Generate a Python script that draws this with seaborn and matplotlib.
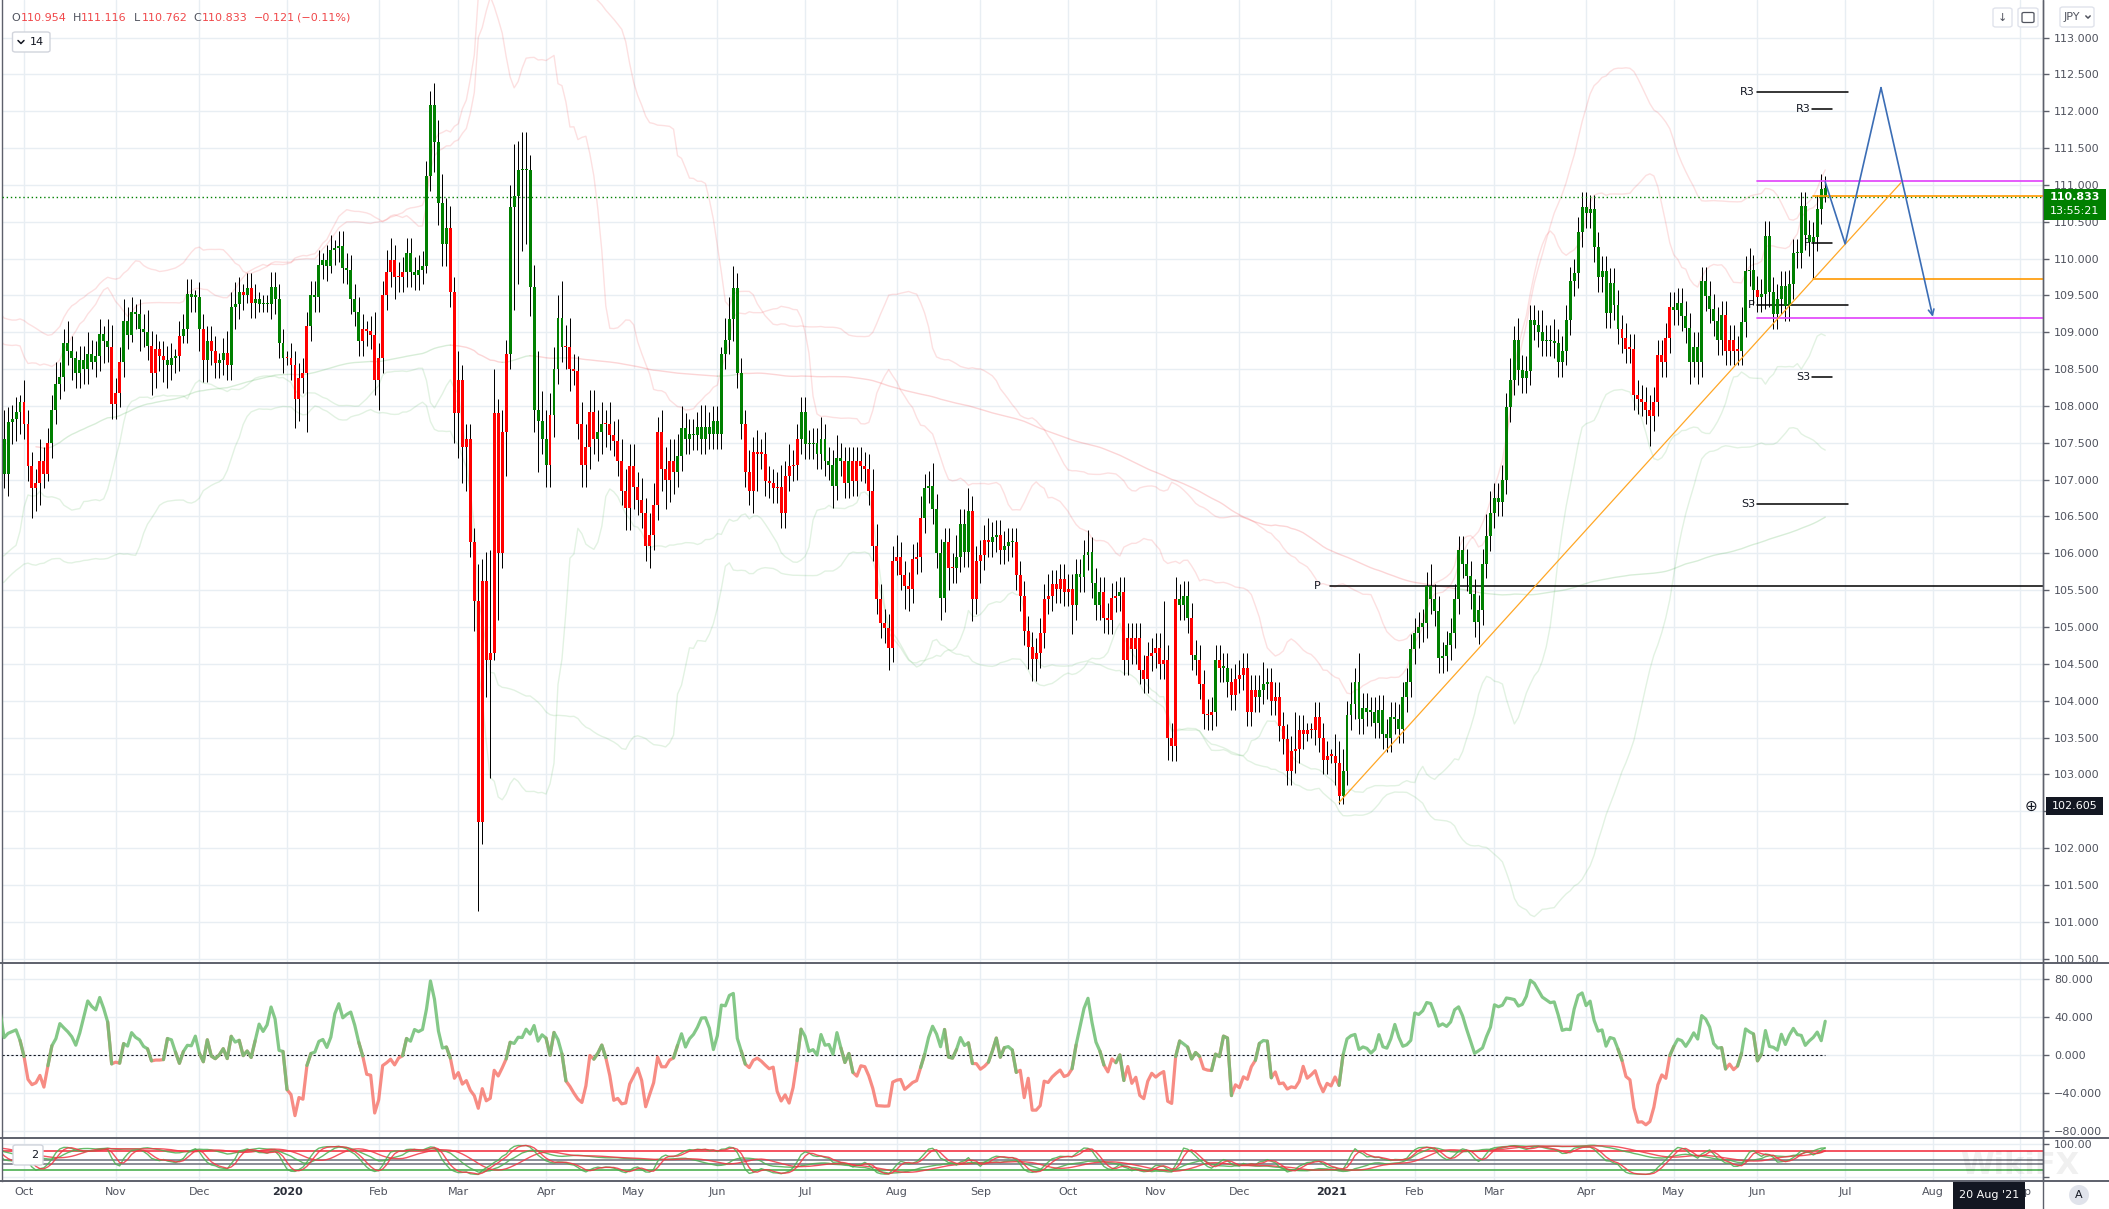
import numpy as np
import pandas as pd
import matplotlib
matplotlib.use("Agg")
import matplotlib.pyplot as plt
import seaborn as sns
from matplotlib.patches import Rectangle, FancyBboxPatch
from matplotlib.lines import Line2D

# ---------------------------------------------------------------- data
first_open = 106.30
last_ohlc = [110.954, 111.116, 110.762, 110.833]   # O H L C of current bar
countdown = "13:55:21"
crosshair_price = 102.605
crosshair_date = "20 Aug '21"

close_1909 = [106.24, 105.96, 106.45, 106.95, 106.92, 106.93, 107.55, 107.80, 108.10, 108.09, 108.10, 108.15, 108.45, 107.95, 107.56, 107.55, 107.08, 107.78, 107.82, 107.92, 108.05]
up_1909 = [2, 2, 2, 3, 2, 1, 2, 2, 2, 2, 2, 2, 3, 3, 3, 2, 4, 2, 2, 2, 1]
dn_1909 = [3, 3, 2, 2, 3, 3, 2, 2, 2, 2, 3, 2, 2, 2, 2, 3, 2, 3, 3, 3, 3]

close_1910 = [107.75, 107.18, 106.88, 106.95, 107.25, 107.08, 107.50, 107.95, 108.30, 108.40, 108.85, 108.75, 108.65, 108.45, 108.62, 108.50, 108.70, 108.60, 108.68, 108.98, 108.88, 108.80, 108.03]
up_1910 = [3, 2, 2, 2, 3, 2, 2, 2, 3, 2, 2, 3, 2, 1, 2, 2, 3, 2, 2, 2, 1, 3, 3]
dn_1910 = [2, 2, 4, 3, 3, 2, 1, 2, 2, 2, 2, 2, 3, 2, 2, 2, 2, 1, 2, 2, 3, 2, 2]

close_1911 = [108.18, 108.60, 109.15, 108.97, 109.28, 109.25, 109.05, 109.00, 108.82, 108.45, 108.78, 108.68, 108.62, 108.55, 108.65, 108.68, 108.95, 109.05, 109.52, 109.48, 109.48]
up_1911 = [2, 2, 3, 2, 2, 1, 2, 2, 3, 2, 2, 1, 2, 2, 2, 1, 2, 2, 2, 2, 1]
dn_1911 = [2, 2, 2, 2, 1, 2, 3, 2, 2, 3, 2, 2, 3, 3, 2, 2, 2, 1, 2, 2, 2]

close_1912 = [109.05, 108.62, 108.88, 108.75, 108.58, 108.62, 108.72, 108.55, 109.35, 109.38, 109.55, 109.50, 109.60, 109.40, 109.45, 109.38, 109.40, 109.38, 109.62, 109.45, 108.85, 108.65]
up_1912 = [2, 2, 2, 2, 2, 1, 2, 3, 2, 3, 2, 1, 2, 2, 2, 1, 1, 1, 2, 2, 2, 2]
dn_1912 = [3, 3, 3, 2, 2, 2, 2, 2, 2, 3, 2, 2, 1, 2, 2, 1, 1, 1, 2, 2, 2, 2]

close_2001 = [108.65, 108.55, 108.10, 108.38, 108.45, 109.08, 109.50, 109.48, 109.92, 109.98, 109.90, 110.12, 110.15, 110.17, 109.87, 109.85, 109.45, 109.28, 108.88, 109.05, 109.02, 108.97, 108.35]
up_2001 = [1, 2, 2, 2, 2, 2, 2, 2, 2, 1, 2, 2, 1, 2, 2, 2, 2, 2, 2, 2, 1, 2, 3]
dn_2001 = [1, 2, 4, 3, 2, 8, 2, 2, 2, 2, 2, 1, 2, 2, 2, 2, 2, 2, 2, 2, 2, 2, 2]

close_2002 = [108.65, 109.50, 109.82, 109.98, 109.75, 109.75, 109.82, 110.08, 109.82, 109.78, 109.85, 109.90, 111.12, 112.08, 111.58, 110.75, 110.20, 110.42, 109.55, 107.90]
up_2002 = [2, 2, 3, 3, 2, 2, 2, 2, 2, 2, 2, 2, 2, 2, 3, 3, 4, 4, 3, 2]
dn_2002 = [4, 2, 2, 2, 3, 2, 2, 2, 2, 2, 2, 2, 1, 2, 4, 3, 3, 3, 2, 4]

close_2003 = [108.35, 107.45, 107.55, 106.15, 105.35, 102.35, 105.62, 104.55, 104.65, 107.90, 106.00, 107.65, 108.70, 110.70, 110.85, 111.20, 111.22, 111.20, 109.62, 107.95, 107.80, 107.55]
up_2003 = [4, 2, 2, 2, 2, 5, 3, 4, 14, 6, 2, 3, 2, 3, 7, 4, 5, 5, 2, 3, 8, 4]
dn_2003 = [6, 5, 6, 2, 4, 12, 3, 5, 16, 1, 9, 2, 6, 2, 14, 12, 11, 10, 4, 3, 7, 2]

close_2004 = [107.20, 107.88, 108.50, 109.20, 108.80, 108.80, 108.50, 108.48, 107.75, 107.20, 107.45, 107.92, 107.55, 107.65, 107.75, 107.75, 107.60, 107.52, 107.25, 106.85, 106.62, 107.18]
up_2004 = [4, 3, 3, 3, 5, 3, 4, 2, 2, 3, 3, 3, 3, 3, 3, 2, 3, 2, 3, 3, 3, 3]
dn_2004 = [3, 3, 3, 2, 2, 3, 3, 2, 2, 3, 3, 3, 2, 3, 3, 3, 2, 2, 2, 2, 3, 3]

close_2005 = [106.90, 106.72, 106.55, 106.10, 106.25, 106.65, 107.65, 107.15, 107.00, 107.25, 107.10, 107.32, 107.70, 107.55, 107.62, 107.60, 107.72, 107.55, 107.72, 107.62, 107.80]
up_2005 = [3, 2, 3, 2, 3, 3, 2, 3, 3, 3, 3, 3, 3, 2, 2, 2, 2, 3, 3, 2, 2]
dn_2005 = [3, 2, 2, 2, 3, 2, 2, 3, 4, 3, 3, 2, 2, 2, 2, 2, 2, 2, 2, 2, 2]

close_2006 = [107.62, 108.70, 108.90, 109.18, 109.60, 108.45, 107.75, 107.10, 106.85, 107.38, 107.35, 107.35, 106.98, 106.95, 106.88, 106.90, 106.55, 107.05, 107.18, 107.20, 107.55, 107.92]
up_2006 = [2, 1, 3, 3, 3, 2, 2, 2, 3, 2, 3, 2, 3, 2, 2, 2, 3, 2, 3, 2, 2, 2]
dn_2006 = [2, 2, 2, 2, 3, 2, 2, 2, 2, 3, 5, 2, 2, 2, 2, 2, 2, 2, 2, 2, 2, 2]

close_2007 = [107.48, 107.48, 107.50, 107.35, 107.55, 107.25, 107.20, 106.92, 107.30, 107.25, 106.95, 107.25, 106.98, 107.25, 107.18, 107.15, 106.85, 106.10, 105.38, 105.05, 104.98, 104.72, 105.90]
up_2007 = [2, 2, 2, 2, 3, 2, 2, 2, 3, 2, 2, 2, 2, 2, 2, 2, 2, 3, 3, 2, 2, 2, 2]
dn_2007 = [2, 2, 2, 2, 2, 2, 2, 3, 2, 2, 2, 2, 2, 2, 2, 2, 2, 2, 2, 2, 2, 3, 2]

close_2008 = [105.95, 105.70, 105.55, 105.52, 105.92, 105.95, 106.48, 106.88, 106.92, 106.60, 106.00, 105.40, 106.15, 105.80, 105.80, 105.95, 106.40, 106.02, 106.58, 105.38, 105.90]
up_2008 = [3, 2, 2, 2, 2, 2, 3, 2, 2, 3, 2, 2, 2, 2, 2, 3, 2, 2, 3, 2, 2]
dn_2008 = [2, 2, 3, 3, 2, 2, 2, 2, 2, 2, 2, 3, 2, 3, 2, 2, 2, 2, 2, 3, 2]

close_2009 = [105.98, 106.18, 106.15, 106.22, 106.25, 106.05, 106.10, 106.15, 106.15, 105.70, 105.42, 104.95, 104.73, 104.57, 104.65, 104.92, 105.38, 105.42, 105.58, 105.52, 105.65, 105.48]
up_2009 = [2, 2, 3, 2, 2, 2, 2, 2, 2, 2, 2, 2, 2, 2, 2, 2, 2, 3, 2, 2, 2, 2]
dn_2009 = [3, 2, 2, 2, 2, 2, 2, 2, 2, 2, 2, 2, 3, 3, 3, 2, 2, 2, 2, 2, 2, 2]

close_2010 = [105.52, 105.30, 105.72, 105.68, 105.98, 106.02, 105.60, 105.30, 105.48, 105.12, 105.10, 105.40, 105.42, 105.48, 104.55, 104.85, 104.70, 104.85, 104.42, 104.30, 104.60, 104.65]
up_2010 = [2, 2, 2, 2, 2, 3, 2, 2, 2, 2, 2, 2, 2, 2, 2, 2, 2, 2, 2, 2, 2, 2]
dn_2010 = [2, 4, 2, 2, 2, 2, 2, 2, 2, 2, 2, 2, 2, 2, 2, 2, 2, 2, 2, 2, 2, 2]

close_2011 = [104.72, 104.50, 104.55, 103.50, 103.38, 105.38, 105.30, 105.42, 105.12, 104.62, 104.55, 104.22, 103.82, 103.80, 103.85, 104.55, 104.45, 104.45, 104.25, 104.08, 104.30]
up_2011 = [2, 2, 8, 2, 2, 3, 2, 2, 2, 2, 2, 2, 2, 2, 2, 2, 2, 2, 2, 2, 2]
dn_2011 = [2, 2, 2, 3, 2, 2, 2, 2, 2, 2, 2, 2, 2, 2, 2, 2, 2, 2, 2, 2, 2]

close_2012 = [104.35, 104.45, 103.85, 104.15, 104.05, 104.15, 104.22, 104.25, 104.00, 104.05, 103.65, 103.48, 103.05, 103.32, 103.35, 103.60, 103.55, 103.60, 103.60, 103.78, 103.50, 103.20, 103.25]
up_2012 = [2, 2, 2, 2, 2, 2, 3, 2, 2, 2, 2, 2, 2, 2, 5, 2, 2, 1, 1, 2, 2, 2, 2]
dn_2012 = [2, 2, 2, 2, 2, 2, 2, 2, 2, 2, 2, 2, 2, 2, 3, 2, 2, 1, 1, 2, 2, 2, 2]

close_2101 = [103.25, 103.15, 102.70, 103.05, 103.80, 103.95, 104.25, 103.75, 103.90, 103.85, 103.85, 103.70, 103.88, 103.55, 103.50, 103.78, 103.75, 103.62, 104.05, 104.25, 104.70]
up_2101 = [1, 3, 3, 3, 2, 3, 2, 4, 2, 2, 2, 2, 2, 2, 2, 2, 2, 2, 2, 2, 2]
dn_2101 = [1, 3, 1, 1, 2, 2, 2, 2, 2, 2, 2, 2, 2, 2, 2, 2, 2, 2, 2, 2, 2]

close_2102 = [104.92, 105.00, 105.05, 105.55, 105.38, 105.22, 104.58, 104.60, 104.75, 104.92, 105.38, 106.04, 105.86, 105.69, 105.45, 105.07, 105.23, 105.86, 106.23, 106.55]
up_2102 = [2, 2, 2, 2, 3, 2, 2, 2, 2, 2, 2, 2, 2, 2, 2, 2, 2, 2, 3, 3]
dn_2102 = [2, 2, 2, 2, 2, 2, 2, 2, 2, 2, 2, 2, 2, 2, 2, 2, 3, 2, 2, 2]

close_2103 = [106.75, 106.70, 107.00, 107.98, 108.35, 108.89, 108.49, 108.38, 108.48, 109.17, 109.10, 109.00, 108.88, 108.90, 108.88, 108.85, 108.60, 108.75, 109.17, 109.69, 109.80, 110.36, 110.70]
up_2103 = [2, 2, 2, 2, 3, 2, 3, 2, 2, 2, 2, 2, 3, 2, 2, 3, 2, 2, 2, 2, 2, 2, 2]
dn_2103 = [2, 2, 2, 2, 2, 2, 2, 2, 2, 2, 2, 2, 2, 2, 2, 2, 2, 2, 2, 2, 2, 2, 2]

close_2104 = [110.62, 110.67, 110.16, 109.75, 109.83, 109.26, 109.67, 109.37, 109.04, 108.92, 108.78, 108.78, 108.15, 108.09, 108.06, 107.95, 107.86, 108.06, 108.69, 108.60, 108.92, 109.35]
up_2104 = [2, 2, 2, 2, 2, 2, 2, 2, 2, 2, 2, 2, 2, 2, 2, 2, 2, 2, 2, 2, 2, 2]
dn_2104 = [2, 2, 2, 2, 2, 2, 2, 2, 2, 2, 2, 2, 2, 2, 2, 2, 4, 2, 2, 2, 2, 2]

close_2105 = [109.30, 109.40, 109.22, 109.06, 108.60, 108.80, 108.60, 109.69, 109.49, 109.32, 109.15, 108.89, 109.23, 108.75, 108.90, 108.75, 108.75, 109.14, 109.83, 109.85, 109.57]
up_2105 = [2, 2, 2, 2, 2, 2, 2, 2, 2, 2, 2, 2, 2, 2, 2, 2, 2, 2, 2, 3, 2]
dn_2105 = [2, 2, 2, 2, 3, 2, 3, 2, 2, 2, 2, 2, 2, 2, 2, 2, 2, 2, 2, 2, 2]

close_2106 = [109.48, 109.52, 110.31, 109.55, 109.25, 109.45, 109.63, 109.36, 109.65, 110.07, 110.07, 110.71, 110.32, 110.23, 110.30, 110.67, 110.95, 110.83]
up_2106 = [2, 2, 2, 2, 2, 2, 2, 2, 2, 2, 2, 2, 2, 2, 2, 2, 2, 2]
dn_2106 = [2, 2, 2, 2, 2, 2, 2, 2, 2, 2, 2, 2, 2, 2, 5, 2, 2, 1]

months = [
    ("2019-09", close_1909, up_1909, dn_1909), ("2019-10", close_1910, up_1910, dn_1910),
    ("2019-11", close_1911, up_1911, dn_1911), ("2019-12", close_1912, up_1912, dn_1912),
    ("2020-01", close_2001, up_2001, dn_2001), ("2020-02", close_2002, up_2002, dn_2002),
    ("2020-03", close_2003, up_2003, dn_2003), ("2020-04", close_2004, up_2004, dn_2004),
    ("2020-05", close_2005, up_2005, dn_2005), ("2020-06", close_2006, up_2006, dn_2006),
    ("2020-07", close_2007, up_2007, dn_2007), ("2020-08", close_2008, up_2008, dn_2008),
    ("2020-09", close_2009, up_2009, dn_2009), ("2020-10", close_2010, up_2010, dn_2010),
    ("2020-11", close_2011, up_2011, dn_2011), ("2020-12", close_2012, up_2012, dn_2012),
    ("2021-01", close_2101, up_2101, dn_2101), ("2021-02", close_2102, up_2102, dn_2102),
    ("2021-03", close_2103, up_2103, dn_2103), ("2021-04", close_2104, up_2104, dn_2104),
    ("2021-05", close_2105, up_2105, dn_2105), ("2021-06", close_2106, up_2106, dn_2106),
]

month_labels = ["Oct", "Nov", "Dec", "2020", "Feb", "Mar", "Apr", "May", "Jun", "Jul", "Aug", "Sep",
                "Oct", "Nov", "Dec", "2021", "Feb", "Mar", "Apr", "May", "Jun", "Jul", "Aug", "Sep"]
price_ticks = [100.5, 101.0, 101.5, 102.0, 102.5, 103.0, 103.5, 104.0, 104.5, 105.0, 105.5, 106.0, 106.5,
               107.0, 107.5, 108.0, 108.5, 109.0, 109.5, 110.0, 110.5, 111.0, 111.5, 112.0, 112.5, 113.0]
osc_ticks = [-80, -40, 0, 40, 80]

pivots_month = [("R3", 112.26), ("P", 109.37), ("S3", 106.67)]
pivots_week = [("R3", 112.03), ("P", 110.21), ("S3", 108.39)]
pivot_year = ("P", 105.55)
magenta_levels = [111.06, 109.20]
orange_levels = [110.85, 109.72]
trend_dates = ["2021-01-05", "2021-07-21"]
trend_prices = [102.62, 111.03]
proj_dates = ["2021-06-24", "2021-07-01", "2021-07-14", "2021-08-02"]
proj_prices = [111.04, 110.20, 112.32, 109.21]
stoch_levels = [(80, "#f23645"), (50, "#787b86"), (40, "#787b86"), (20, "#4caf50")]

# ---------------------------------------------------------------- frame
cal = pd.bdate_range("2019-09-02", "2021-09-30")
pos = {d: i for i, d in enumerate(cal)}
rows = []
for ym, cl, up, dn in months:
    start = pd.Timestamp(ym + "-01")
    days = pd.bdate_range(start, start + pd.offsets.MonthEnd(0))
    n = min(len(days), len(cl), len(up), len(dn))
    for k in range(n):
        rows.append((pos[days[k]], cl[k], up[k], dn[k]))
df = pd.DataFrame(rows, columns=["x", "close", "up", "dn"]).sort_values("x").reset_index(drop=True)
df["open"] = df["close"].shift(1)
df.loc[0, "open"] = first_open
df["high"] = np.maximum(df.open, df.close) + df.up / 10.0
df["low"] = np.minimum(df.open, df.close) - df.dn / 10.0
li = df.index[-1]
df.loc[li, ["open", "high", "low", "close"]] = last_ohlc

xs = df.x.values.astype(float)
o, h, l, c = df.open.values, df.high.values, df.low.values, df.close.values

# indicators derived from the price arrays: Chande momentum oscillator (14)
dlt = df.close.diff()
gain = dlt.clip(lower=0).rolling(14).sum()
loss = (-dlt).clip(lower=0).rolling(14).sum()
osc = (100 * (gain - loss) / (gain + loss)).values

bands = []
for n_, m_ in ((20, 2.0), (50, 2.5)):
    mid = df.close.rolling(n_, min_periods=15).mean()
    sd = df.close.rolling(n_, min_periods=15).std(ddof=0)
    bands.append((mid + m_ * sd, mid - m_ * sd))
sma200 = df.close.rolling(200, min_periods=25).mean().values


def stoch(n, ks, ds):
    ll = df.low.rolling(n, min_periods=5).min()
    hh = df.high.rolling(n, min_periods=5).max()
    k = 100 * (df.close - ll) / (hh - ll)
    k = k.rolling(ks, min_periods=1).mean()
    d = k.rolling(ds, min_periods=1).mean()
    return k.values, d.values


k_fast, d_fast = stoch(14, 3, 3)
k_slow, d_slow = stoch(50, 8, 8)

# ---------------------------------------------------------------- figure
sns.set_theme(style="white")
plt.rcParams["font.family"] = ["DejaVu Sans"]
W, H = 2109, 1209
fig = plt.figure(figsize=(W / 100, H / 100), dpi=100, facecolor="white")

GRID = "#e8eef3"
AXC = "#5d606b"
TXT = "#50535e"
GREEN_C = "#008000"
RED_C = "#ff0000"


def add_ax(x0, y0, x1, y1, z=0):
    a = fig.add_axes([x0 / W, 1 - y1 / H, (x1 - x0) / W, (y1 - y0) / H])
    a.set_zorder(z)
    return a


def fx(x):
    return x / W


def fy(y):
    return 1 - y / H


AX_L, AX_R = 2, 2043
PXB = 3.985
x_oct = pos[pd.Timestamp("2019-10-01")]
xl = x_oct - (24 - AX_L) / PXB
xr = x_oct + (AX_R - 24) / PXB

ax = add_ax(AX_L, 0, AX_R, 963, 0)
axo = add_ax(AX_L, 963, AX_R, 1138, 2)
axs = add_ax(AX_L, 1138, AX_R, 1181, 2)

mstarts = pd.date_range("2019-10-01", "2021-09-01", freq="MS")
mpos = [int(np.searchsorted(cal.values, m.to_datetime64())) for m in mstarts]

for a in (ax, axo, axs):
    a.set_facecolor("white")
    a.set_xlim(xl, xr)
    a.set_xticks(mpos)
    a.grid(True, color=GRID, lw=1.0)
    a.set_axisbelow(True)
    for s in ("top", "bottom"):
        a.spines[s].set_visible(False)
    a.spines["left"].set_color(AXC)
    a.spines["right"].set_color(AXC)
    a.spines["left"].set_linewidth(1.0)
    a.spines["right"].set_linewidth(1.0)
    a.yaxis.tick_right()
    a.tick_params(axis="y", direction="out", length=4, width=1, color=AXC,
                  labelsize=8, labelcolor=TXT, pad=4, left=False, right=True)
    a.tick_params(axis="x", length=0, labelbottom=False)

# ---- faint bands / moving average
PINK = (0.95, 0.25, 0.27)
GRF = (0.30, 0.69, 0.31)
for upb, lob in bands:
    sns.lineplot(x=xs, y=upb.values, ax=ax, color=PINK, alpha=0.16,
                 linewidth=1.0, errorbar=None, legend=False)
    sns.lineplot(x=xs, y=lob.values, ax=ax, color=GRF, alpha=0.16,
                 linewidth=1.0, errorbar=None, legend=False)
above = c > sma200
ext_a = above | np.r_[above[1:], False]
ext_b = (~above) | np.r_[(~above)[1:], False]
ax.plot(xs, np.where(ext_a, sma200, np.nan), color=GRF, alpha=0.22, lw=1.0, zorder=1)
ax.plot(xs, np.where(ext_b, sma200, np.nan), color=PINK, alpha=0.22, lw=1.0, zorder=1)

# ---- pivots
x_jun = pos[pd.Timestamp("2021-06-01")]
x_jul = pos[pd.Timestamp("2021-07-01")]
x_w0 = pos[pd.Timestamp("2021-06-21")]
x_w1 = pos[pd.Timestamp("2021-06-25")]
x_y0 = pos[pd.Timestamp("2021-01-01")]
for name, val in pivots_month:
    ax.plot([x_jun - 0.2, x_jul + 0.7], [val, val], color="black", lw=1.1, zorder=2)
    ax.text(x_jun - 0.6, val, name, ha="right", va="center", fontsize=8, color="#131722")
for name, val in pivots_week:
    ax.plot([x_w0 - 0.2, x_w1 + 0.7], [val, val], color="black", lw=1.1, zorder=2)
    ax.text(x_w0 - 0.6, val, name, ha="right", va="center", fontsize=8, color="#131722")
ax.plot([x_y0 - 0.2, xr], [pivot_year[1]] * 2, color="black", lw=1.1, zorder=2)
ax.text(x_y0 - 2.5, pivot_year[1], pivot_year[0], ha="right", va="center", fontsize=8, color="#131722")

# ---- candles (colour follows the oscillator sign)
cols = np.where(np.nan_to_num(osc, nan=1.0) >= 0, GREEN_C, RED_C)
ax.vlines(xs, l, h, color="black", lw=0.72, zorder=3)
body_lo = np.minimum(o, c)
body_h = np.maximum(np.abs(c - o), 0.02)
ax.bar(xs, body_h, bottom=body_lo, width=0.74, color=cols, linewidth=0, zorder=4)

# ---- drawings
ax.axhline(last_ohlc[3], color=GREEN_C, ls=(0, (1, 2)), lw=1.0, zorder=5)
for v in magenta_levels:
    ax.plot([x_jun - 0.2, xr], [v, v], color="#e040fb", lw=1.2, zorder=5)
for v in orange_levels:
    ax.plot([x_w0, xr], [v, v], color="#ff9800", lw=1.2, zorder=5)
tx = [pos[pd.Timestamp(d)] for d in trend_dates]
ax.plot(tx, trend_prices, color="#ffa726", lw=0.9, zorder=5)
px = [pos[pd.Timestamp(d)] for d in proj_dates]
BLUE = "#3b6db5"
ax.plot(px[:-1], proj_prices[:-1], color=BLUE, lw=1.2, zorder=6)
ax.annotate("", xy=(px[-1], proj_prices[-1]), xytext=(px[-2], proj_prices[-2]),
            arrowprops=dict(arrowstyle="->", color=BLUE, lw=1.2, shrinkA=0, shrinkB=0,
                            mutation_scale=10), zorder=6)

ax.set_ylim(100.44, 113.51)
ax.set_yticks(price_ticks)
ax.set_yticklabels([f"{t:.3f}" for t in price_ticks])
ax.set_xlabel("")
ax.set_ylabel("")

# ---- oscillator panel
posm = osc >= 0
negm = osc < 0
gmask = posm | np.r_[False, posm[:-1]] | np.r_[posm[1:], False]
rmask = negm | np.r_[False, negm[:-1]] | np.r_[negm[1:], False]
axo.plot(xs, np.where(rmask, osc, np.nan), color="#f6786f", lw=2.3, alpha=0.85,
         solid_capstyle="round", zorder=3)
axo.plot(xs, np.where(gmask, osc, np.nan), color="#6fbf73", lw=2.3, alpha=0.85,
         solid_capstyle="round", zorder=3)
axo.plot([xl, xs[-1]], [0, 0], color="#131722", ls=(0, (2, 2)), lw=0.8, zorder=2)
axo.set_ylim(-87.4, 96.8)
axo.set_yticks(osc_ticks)
axo.set_yticklabels([f"{t:.3f}".replace("-", "\u2212") for t in osc_ticks])

# ---- stochastic panel
for lev, col in stoch_levels:
    axs.axhline(lev, color=col, lw=1.2, zorder=2)
sns.lineplot(x=xs, y=k_slow, ax=axs, color="#4caf50", linewidth=1.0, alpha=0.85, errorbar=None, legend=False)
sns.lineplot(x=xs, y=d_slow, ax=axs, color="#f23645", linewidth=1.0, alpha=0.85, errorbar=None, legend=False)
sns.lineplot(x=xs, y=k_fast, ax=axs, color="#4caf50", linewidth=1.0, alpha=0.85, errorbar=None, legend=False)
sns.lineplot(x=xs, y=d_fast, ax=axs, color="#f23645", linewidth=1.0, alpha=0.85, errorbar=None, legend=False)
axs.set_ylim(-13.8, 118.5)
axs.set_yticks([0, 100])
axs.set_yticklabels(["", "100.00"])
axs.set_xlabel("")
axs.set_ylabel("")
axo.set_xlabel("")
axo.set_ylabel("")
axs.tick_params(axis="x", labelbottom=True, labelsize=8, labelcolor=TXT, pad=4)
axs.set_xticklabels(month_labels)
for t in axs.get_xticklabels():
    if t.get_text().isdigit():
        t.set_fontweight("bold")
        t.set_color("#2a2e39")

# ---------------------------------------------------------------- overlays in pixel space
def fline(x0, y0, x1, y1, color=AXC, lw=1.3, z=4):
    fig.add_artist(Line2D([fx(x0), fx(x1)], [fy(y0), fy(y1)], transform=fig.transFigure,
                          color=color, lw=lw, zorder=z))


def fbox(x0, y0, x1, y1, fc, ec="none", lw=1.0, r=3, z=5):
    fig.add_artist(FancyBboxPatch((fx(x0), fy(y1)), (x1 - x0) / W, (y1 - y0) / H,
                                  boxstyle=f"round,pad=0,rounding_size={r / W}",
                                  transform=fig.transFigure, fc=fc, ec=ec, lw=lw, zorder=z))


def ftext(x, y, s, **kw):
    kw.setdefault("zorder", 6)
    fig.text(fx(x), fy(y), s, **kw)


def chevron(cx, cy, s=3.0, color="#131722"):
    fig.add_artist(Line2D([fx(cx - s), fx(cx), fx(cx + s)], [fy(cy - s / 2), fy(cy + s / 2), fy(cy - s / 2)],
                          transform=fig.transFigure, color=color, lw=1.1, zorder=7))


# hide the lower half of the clipped 100.500 label
fig.add_artist(Rectangle((fx(2044), fy(1137)), (W - 2044) / W, (1137 - 964) / H,
                         transform=fig.transFigure, fc="white", ec="none", zorder=1))

# panel separators and price-scale border
for yy in (963, 1138, 1181):
    fline(0, yy, W, yy, lw=1.4)
fline(AX_R, 0, AX_R, H, lw=1.0)

# header
lo, lh, ll_, lc = last_ohlc
chg = lc - lo
pct = chg / lo * 100
HR = "#f0484a"
hdr = [("O", 11, TXT), (f"{lo:.3f}", 21, HR), ("H", 73, TXT), (f"{lh:.3f}", 81, HR),
       ("L", 134, TXT), (f"{ll_:.3f}", 142, HR), ("C", 193, TXT), (f"{lc:.3f}", 202, HR),
       (f"{chg:+.3f}".replace("-", "\u2212"), 254, HR), (f"({pct:+.2f}%)".replace("-", "\u2212"), 297, HR)]
for s, x0, col in hdr:
    ftext(x0, 18, s, ha="left", va="center", fontsize=8, color=col)

fbox(12.5, 32, 50, 52, fc="white", ec="#d1d4dc", lw=1.0, r=3)
chevron(21, 42, 3)
ftext(30, 42, "14", ha="left", va="center", fontsize=8, color="#131722")

fbox(13, 1145, 43, 1165, fc="white", ec="#d1d4dc", lw=1.0, r=3, z=8)
chevron(22, 1155, 3)
ftext(31, 1155, "2", ha="left", va="center", fontsize=8, color="#131722", zorder=9)

# top-right buttons
fbox(1993, 8, 2012, 27, fc="white", ec="#e0e3eb", lw=1.0, r=3)
ftext(2002.5, 17.5, "\u2193", ha="center", va="center", fontsize=8, color="#50535e")
fbox(2018, 8, 2038, 27, fc="white", ec="#e0e3eb", lw=1.0, r=3)
fbox(2022, 12.5, 2034, 22.5, fc="white", ec="#50535e", lw=0.9, r=2, z=6)
fbox(2060, 7, 2094, 27, fc="white", ec="#e0e3eb", lw=1.0, r=3)
ftext(2064, 17, "JPY", ha="left", va="center", fontsize=8, color="#50535e")
chevron(2088, 17, 2.2, color="#50535e")

# current price label
fig.add_artist(Rectangle((fx(2044), fy(220)), 62 / W, 31 / H, transform=fig.transFigure,
                         fc=GREEN_C, ec="none", zorder=5))
ftext(2075, 197, f"{lc:.3f}", ha="center", va="center", fontsize=8, color="white", fontweight="bold")
ftext(2075, 211.5, countdown, ha="center", va="center", fontsize=8, color="white")

# crosshair price label
fig.add_artist(Rectangle((fx(2046), fy(815)), 57 / W, 18 / H, transform=fig.transFigure,
                         fc="#131722", ec="none", zorder=5))
ftext(2074.5, 806, f"{crosshair_price:.3f}", ha="center", va="center", fontsize=8, color="white")
ftext(2031, 806, "\u2295", ha="center", va="center", fontsize=11, color="#131722")

# watermark
ftext(2020, 1166, "WikiFX", ha="center", va="center", fontsize=22, fontweight="bold",
      color="#000000", alpha=0.06, zorder=3)

# crosshair date label
fig.add_artist(Rectangle((fx(1953), fy(1209)), 72 / W, 27 / H, transform=fig.transFigure,
                         fc="#131722", ec="none", zorder=5))
ftext(1989, 1195, crosshair_date, ha="center", va="center", fontsize=8, color="white")

# auto-scale button
ftext(2079, 1195, "A", ha="center", va="center", fontsize=8, color="#131722",
      bbox=dict(boxstyle="circle,pad=0.45", fc="#e0e3eb", ec="none"))

fig.savefig("out.png", dpi=100, facecolor="white")
